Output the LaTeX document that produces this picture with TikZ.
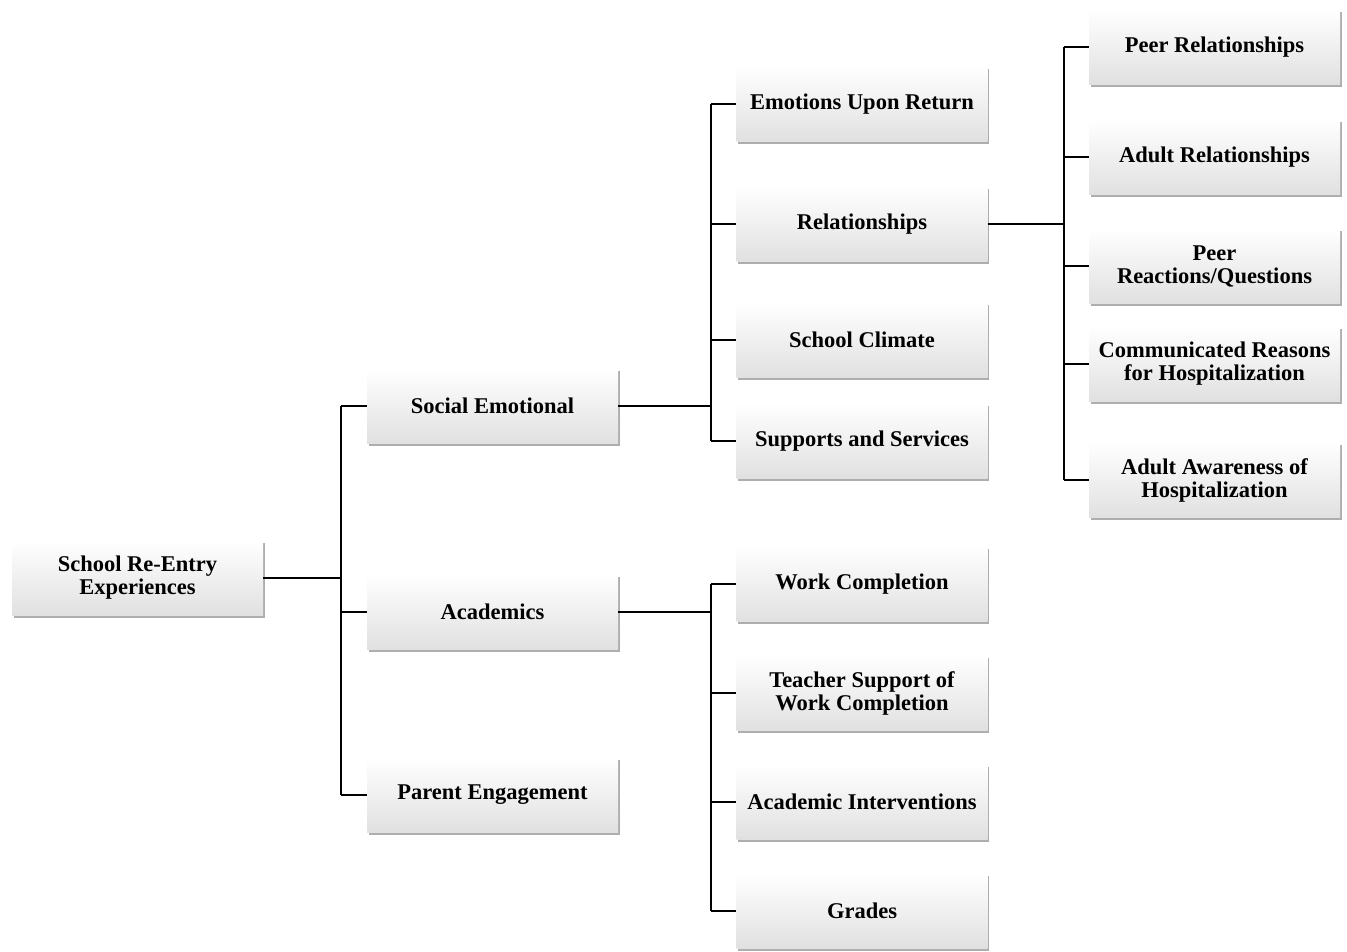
\documentclass[tikz,border=0pt]{standalone}
\usepackage{fontspec}
\setmainfont{Liberation Serif}
\usetikzlibrary{shadows,calc}
\begin{document}
\begin{tikzpicture}[x=1pt,y=-1pt,
  box/.style={minimum width=251pt, minimum height=75pt, inner sep=2pt,
    top color=white, bottom color=black!12, draw=none,
    align=center, font=\fontsize{22.5}{23}\selectfont\bfseries,
    drop shadow={shadow xshift=1.5pt, shadow yshift=-2.5pt, opacity=0.45, fill=black!70}},
  conn/.style={line width=1.5pt, black}]
\useasboundingbox (0,0) rectangle (1347,952);
% level 0
\node[box] (root) at (137.5,578) {School Re-Entry\\Experiences};
% level 1
\node[box] (se) at (492.5,406) {Social Emotional};
\node[box] (ac) at (492.5,612) {Academics};
\node[box] (pe) at (492.5,795) {Parent Engagement};
% level 2
\node[box] (em) at (862,104) {Emotions Upon Return};
\node[box] (re) at (862,224) {Relationships};
\node[box] (sc) at (862,340) {School Climate};
\node[box] (ss) at (862,441) {Supports and Services};
\node[box] (wc) at (862,584) {Work Completion};
\node[box] (ts) at (862,693) {Teacher Support of\\Work Completion};
\node[box] (ai) at (862,802) {Academic Interventions};
\node[box] (gr) at (862,911) {Grades};
% level 3
\node[box] (pr) at (1214.5,47) {Peer Relationships};
\node[box] (ar) at (1214.5,157) {Adult Relationships};
\node[box] (pq) at (1214.5,266) {Peer\\Reactions/Questions};
\node[box] (cr) at (1214.5,364) {Communicated Reasons\\for Hospitalization};
\node[box] (aa) at (1214.5,480) {Adult Awareness of\\Hospitalization};
% bus coordinates
\coordinate (b0) at (341,0);
\coordinate (b1) at (711,0);
\coordinate (b2) at (711,0);
\coordinate (b3) at (1064,0);
% root bus
\draw[conn] (root.east) -- (b0 |- root.east);
\draw[conn] (b0 |- se.west) -- (b0 |- pe.west);
\foreach \c in {se,ac,pe} \draw[conn] (b0 |- \c.west) -- (\c.west);
% social emotional bus
\draw[conn] (se.east) -- (b1 |- se.east);
\draw[conn] (b1 |- em.west) -- (b1 |- ss.west);
\foreach \c in {em,re,sc,ss} \draw[conn] (b1 |- \c.west) -- (\c.west);
% academics bus
\draw[conn] (ac.east) -- (b2 |- ac.east);
\draw[conn] (b2 |- wc.west) -- (b2 |- gr.west);
\foreach \c in {wc,ts,ai,gr} \draw[conn] (b2 |- \c.west) -- (\c.west);
% relationships bus
\draw[conn] (re.east) -- (b3 |- re.east);
\draw[conn] (b3 |- pr.west) -- (b3 |- aa.west);
\foreach \c in {pr,ar,pq,cr,aa} \draw[conn] (b3 |- \c.west) -- (\c.west);
\end{tikzpicture}
\end{document}
